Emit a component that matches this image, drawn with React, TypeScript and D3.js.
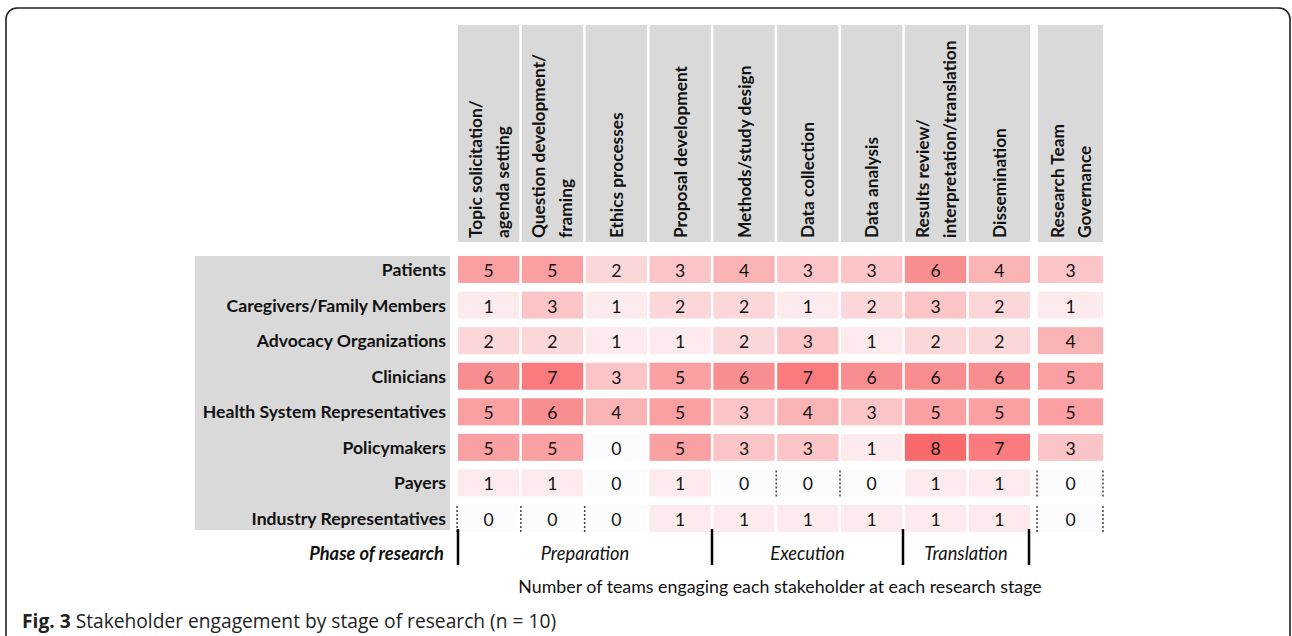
import React from "react";
import * as d3 from "d3";

const stages = [
  ["Topic solicitation/", "agenda setting"],
  ["Question development/", "framing"],
  ["Ethics processes"],
  ["Proposal development"],
  ["Methods/study design"],
  ["Data collection"],
  ["Data analysis"],
  ["Results review/", "interpretation/translation"],
  ["Dissemination"],
];
const governance = ["Research Team", "Governance"];

const stakeholders = [
  "Patients",
  "Caregivers/Family Members",
  "Advocacy Organizations",
  "Clinicians",
  "Health System Representatives",
  "Policymakers",
  "Payers",
  "Industry Representatives",
];

// 9 stage columns + governance column
const patients = [5, 5, 2, 3, 4, 3, 3, 6, 4, 3];
const caregivers = [1, 3, 1, 2, 2, 1, 2, 3, 2, 1];
const advocacy = [2, 2, 1, 1, 2, 3, 1, 2, 2, 4];
const clinicians = [6, 7, 3, 5, 6, 7, 6, 6, 6, 5];
const healthSystem = [5, 6, 4, 5, 3, 4, 3, 5, 5, 5];
const policymakers = [5, 5, 0, 5, 3, 3, 1, 8, 7, 3];
const payers = [1, 1, 0, 1, 0, 0, 0, 1, 1, 0];
const industry = [0, 0, 0, 1, 1, 1, 1, 1, 1, 0];
const values = [patients, caregivers, advocacy, clinicians, healthSystem, policymakers, payers, industry];

const phases = [
  { name: "Preparation", from: 0, to: 4 },
  { name: "Execution", from: 4, to: 7 },
  { name: "Translation", from: 7, to: 9 },
];

// dotted cell borders: [row, col, side]
const dotted: [number, number, string][] = [
  [7, 0, "left"],
  [7, 1, "left"],
  [7, 2, "left"],
  [6, 5, "left"],
  [6, 6, "left"],
  [6, 9, "left"],
  [6, 9, "right"],
  [7, 9, "left"],
  [7, 9, "right"],
];

const FONT = "Lato, 'Open Sans', sans-serif";

export default function App() {
  const W = 1292;
  const H = 636;
  const x = d3
    .scaleBand<number>()
    .domain(d3.range(9))
    .range([458, 1030])
    .paddingInner(0.04)
    .paddingOuter(0);
  const govX = 1038;
  const govW = 65;
  const colX = (c: number) => (c < 9 ? (x(c) as number) : govX);
  const colW = (c: number) => (c < 9 ? x.bandwidth() : govW);

  const y = d3
    .scaleBand<number>()
    .domain(d3.range(stakeholders.length))
    .range([256, 532])
    .paddingInner(0.24)
    .paddingOuter(0);

  const color = d3
    .scaleLinear<string>()
    .domain([0, 8])
    .range(["#FCFCFF", "#F8696B"])
    .interpolate(d3.interpolateRgb);

  const headTop = 25;
  const headBottom = 242;
  const lineGap = 27;

  const header = (lines: string[], cx: number, key: string) => {
    const n = lines.length;
    return lines.map((ln, i) => {
      const lx = cx + (i - (n - 1) / 2) * lineGap;
      return (
        <text
          key={key + i}
          transform={`translate(${lx},${headBottom - 4}) rotate(-90)`}
          dominantBaseline="central"
          fontFamily={FONT}
          fontWeight="bold"
          fontSize={17.3}
          fill="#111"
        >
          {ln}
        </text>
      );
    });
  };

  const phaseLineXs = [458, 712, 903, 1029];
  const phaseEdge = (c: number) => {
    if (c === 0) return phaseLineXs[0];
    if (c === 4) return phaseLineXs[1];
    if (c === 7) return phaseLineXs[2];
    return phaseLineXs[3];
  };

  return (
    <svg
      width={W}
      height={H}
      style={{ position: "absolute", left: 0, top: 0, background: "#fff" }}
    >
      <rect x={6} y={8} width={1284} height={700} rx={11} fill="#fff" stroke="#222" strokeWidth={1.6} />

      {/* header boxes */}
      {d3.range(10).map((c) => (
        <rect key={"h" + c} x={colX(c)} y={headTop} width={colW(c)} height={headBottom - headTop} fill="#D9D9D9" />
      ))}
      {stages.map((s, c) => header(s, colX(c) + colW(c) / 2, "s" + c))}
      {header(governance, colX(9) + colW(9) / 2, "g")}

      {/* row label box */}
      <rect x={195} y={256} width={255} height={274} fill="#D9D9D9" />
      {stakeholders.map((s, r) => (
        <text
          key={"r" + r}
          x={446}
          y={(y(r) as number) + y.bandwidth() / 2}
          dominantBaseline="central"
          textAnchor="end"
          fontFamily={FONT}
          fontWeight="bold"
          fontSize={17.6}
          fill="#111"
        >
          {s}
        </text>
      ))}

      {/* cells */}
      {values.map((row, r) =>
        row.map((v, c) => (
          <g key={`c${r}-${c}`}>
            <rect x={colX(c)} y={y(r) as number} width={colW(c)} height={y.bandwidth()} fill={color(v)} />
            <text
              x={colX(c) + colW(c) / 2}
              y={(y(r) as number) + y.bandwidth() / 2 + 1}
              dominantBaseline="central"
              textAnchor="middle"
              fontFamily={FONT}
              fontSize={17.6}
              fill="#111"
            >
              {v}
            </text>
          </g>
        ))
      )}

      {/* dotted borders */}
      {dotted.map(([r, c, side], i) => {
        const xx = side === "left" ? colX(c) - 1 : colX(c) + colW(c);
        return (
          <line
            key={"d" + i}
            x1={xx}
            x2={xx}
            y1={(y(r) as number) + 1}
            y2={(y(r) as number) + y.bandwidth()}
            stroke="#444"
            strokeWidth={1.5}
            strokeDasharray="2,2"
          />
        );
      })}

      {/* phases */}
      <text
        x={444}
        y={553}
        dominantBaseline="central"
        textAnchor="end"
        fontFamily={FONT}
        fontWeight="bold"
        fontStyle="italic"
        fontSize={18.3}
        fill="#111"
      >
        Phase of research
      </text>
      {phaseLineXs.map((lx, i) => (
        <line key={"pl" + i} x1={lx} x2={lx} y1={529} y2={565} stroke="#000" strokeWidth={2.5} />
      ))}
      {phases.map((p) => {
        const a = phaseEdge(p.from);
        const b = phaseEdge(p.to);
        return (
          <text
            key={p.name}
            x={(a + b) / 2}
            y={553}
            dominantBaseline="central"
            textAnchor="middle"
            fontFamily={FONT}
            fontStyle="italic"
            fontSize={18.3}
            fill="#111"
          >
            {p.name}
          </text>
        );
      })}

      <text
        x={780}
        y={586}
        dominantBaseline="central"
        textAnchor="middle"
        fontFamily={FONT}
        fontSize={17.8}
        fill="#111"
      >
        Number of teams engaging each stakeholder at each research stage
      </text>

      <text x={22} y={620} dominantBaseline="central" fontFamily="'Open Sans', 'Noto Sans', sans-serif" fontSize={19.2} fill="#222">
        <tspan fontWeight="bold">Fig. 3</tspan>
        <tspan> Stakeholder engagement by stage of research (n = 10)</tspan>
      </text>
    </svg>
  );
}
